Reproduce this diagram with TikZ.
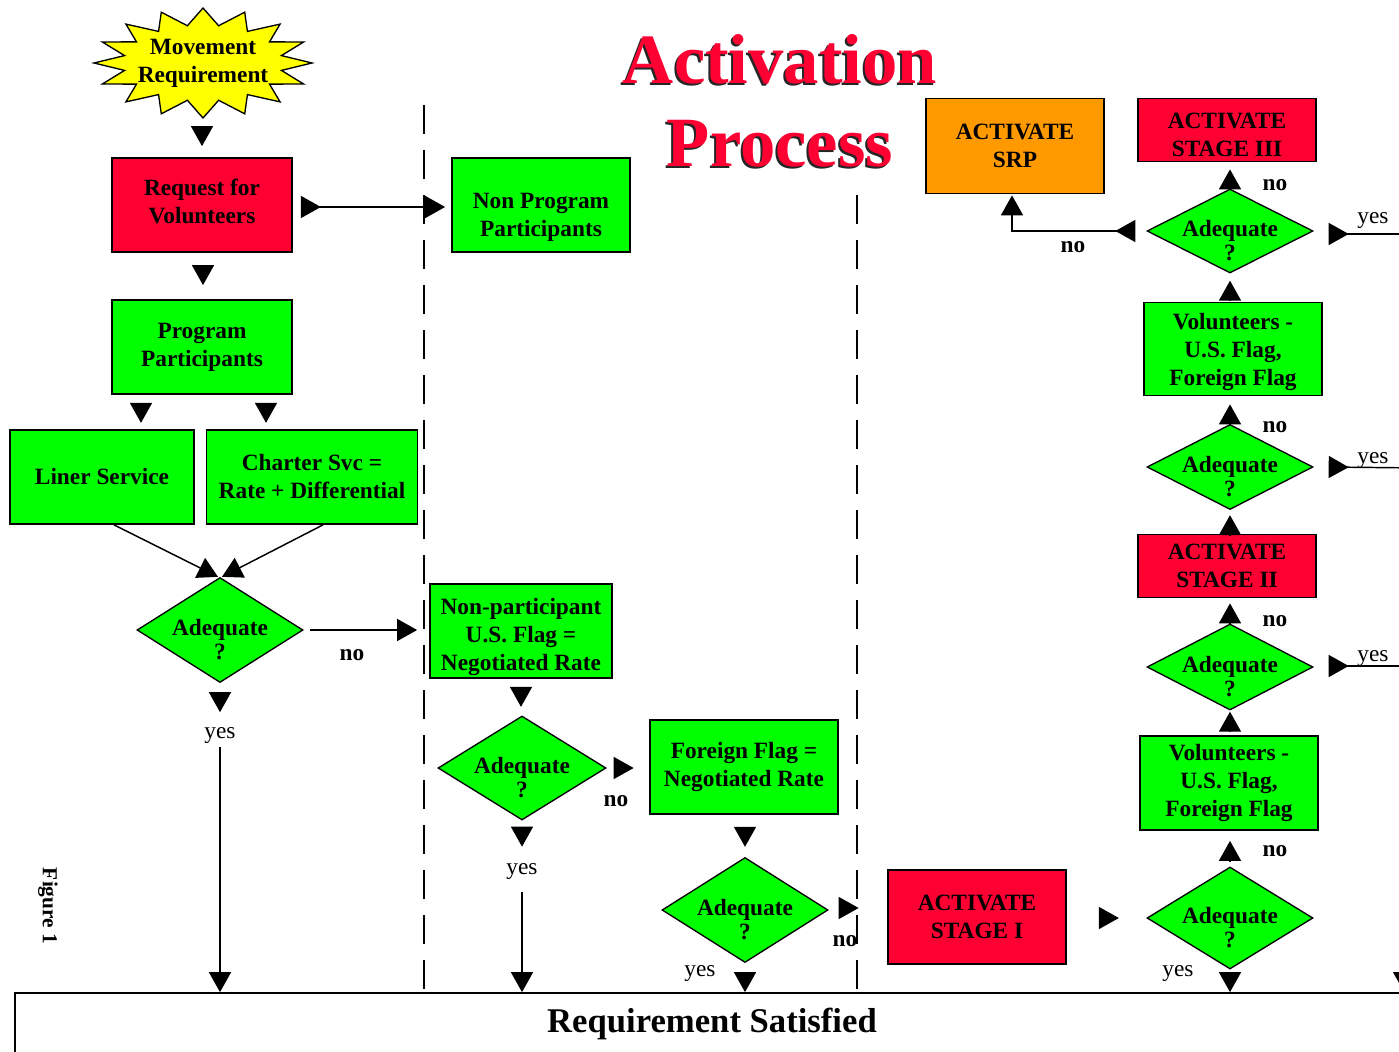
\documentclass[tikz,border=0pt]{standalone}
\usepackage{fontspec}
\setmainfont{Liberation Serif}
\usetikzlibrary{shapes.geometric,arrows.meta,calc}
\definecolor{bred}{HTML}{FF0033}
\definecolor{bgreen}{HTML}{00FF00}
\definecolor{borange}{HTML}{FF9900}
\definecolor{byellow}{HTML}{FFFF00}
\tikzset{
 bfont/.style={font=\fontsize{17.5}{21}\selectfont\bfseries},
 box/.style={rectangle, draw=black, line width=1.3pt, inner sep=0pt, align=center, bfont},
 gbox/.style={box, fill=bgreen},
 rbox/.style={box, fill=bred},
 obox/.style={box, fill=borange},
 sz/.style 2 args={minimum width={#1*0.75pt}, minimum height={#2*0.75pt}},
 dlab/.style={align=center, inner sep=0pt, yshift=-7pt, font=\fontsize{17.5}{18}\selectfont\bfseries},
 dia/.style 2 args={diamond, draw=black, line width=1pt, fill=bgreen, inner sep=0pt, minimum width={#1*0.75pt}, minimum height={#2*0.75pt}, label={[dlab]center:{Adequate\\?}}},
 conn/.style={line width=1.1pt, draw=black},
 tip/.style={conn, -{Triangle[length=15pt,width=16.5pt]}},
 stip/.style={conn, {Triangle[reversed,length=15pt,width=16.5pt]}-},
 sttip/.style={conn, {Triangle[reversed,length=15pt,width=16.5pt]}-{Triangle[length=15pt,width=16.5pt]}},
 nolab/.style={font=\fontsize{17.5}{20}\selectfont\bfseries, inner sep=0pt},
 yeslab/.style={font=\fontsize{17.5}{20}\selectfont, inner sep=0pt},
 sepline/.style={line width=1.1pt, dash pattern=on 21.75pt off 12pt},
 titlefont/.style={font=\fontsize{53}{60}\selectfont\bfseries, inner sep=0pt},
}
\newcommand{\dnstrut}[1]{\rule{0pt}{#1}}
\newcommand{\upstrut}[1]{\rule[-#1]{0pt}{#1}}
\begin{document}
\begin{tikzpicture}[x=0.75pt,y=-0.75pt]
\useasboundingbox (0,0) rectangle (1399,1052);

% separators
\draw[sepline] (424,105) -- (424,993);
\draw[sepline] (857,195) -- (857,993);

% starburst
\draw[fill=byellow, line width=1pt] plot[variable=\t, samples at={0,1,...,31}]
  ({203+ifthenelse(mod(\t,2)==0,109,80)*cos(\t*11.25)}, {63+ifthenelse(mod(\t,2)==0,55,38)*sin(\t*11.25)}) -- cycle;
\node[bfont, align=center, inner sep=0pt] (mr) at (203,63) {Movement\\Requirement};

% title
\node[titlefont, text=black!85] (t1s) at (778,61) {Activation};
\node[titlefont, text=bred] (t1) at (780,59) {Activation};
\node[titlefont, text=black!85] (t2s) at (778,146) {Process};
\node[titlefont, text=bred] (t2) at (780,144) {Process};

% figure label
\node[rotate=-90, font=\fontsize{16}{18}\selectfont\bfseries, inner sep=0pt] (fig) at (48,906) {Figure 1};

% boxes
\node[rbox, sz={180}{94}] (req) at (202,205) {Request for\\Volunteers\upstrut{6pt}};
\node[gbox, sz={178}{94}] (npp) at (541,205) {\dnstrut{30pt}Non Program\\Participants};
\node[gbox, sz={180}{94}] (pp) at (202,347) {Program\\Participants};
\node[gbox, sz={184}{94}] (liner) at (102,477) {Liner Service};
\node[gbox, sz={211}{94}] (charter) at (312,477) {Charter Svc =\\Rate + Differential};
\node[gbox, sz={182}{94}] (nonpart) at (521,631) {\dnstrut{21pt}Non-participant\\U.S. Flag =\\Negotiated Rate};
\node[gbox, sz={188}{94}] (foreign) at (744,767) {Foreign Flag =\\Negotiated Rate};
\node[rbox, sz={178}{94}] (st1) at (977,917) {ACTIVATE\\STAGE I};
\node[gbox, sz={178}{94}] (vol2) at (1229,783) {Volunteers -\\U.S. Flag,\\Foreign Flag};
\node[rbox, sz={178}{63}] (st2) at (1227,566) {ACTIVATE\\STAGE II};
\node[gbox, sz={178}{93}] (vol1) at (1233,349) {\dnstrut{17pt}Volunteers -\\U.S. Flag,\\Foreign Flag};
\node[rbox, sz={178}{63}] (st3) at (1227,130) {\dnstrut{19pt}ACTIVATE\\STAGE III};
\node[obox, sz={178}{95}] (srp) at (1015,146) {ACTIVATE\\SRP};

% diamonds
\node[dia={166}{105}] (d1) at (220,630) {};
\node[dia={168}{104}] (d2) at (522,768) {};
\node[dia={166}{105}] (d3) at (745,910) {};
\node[dia={166}{102}] (d4) at (1230,918) {};
\node[dia={166}{86}] (d5) at (1230,667) {};
\node[dia={166}{85}] (d6) at (1230,467) {};
\node[dia={166}{84}] (d7) at (1230,231) {};

% requirement satisfied
\node[rectangle, draw=black, line width=1.3pt, inner sep=0pt, minimum width={1394*0.75pt}, minimum height={62*0.75pt}, font=\fontsize{26}{30}\selectfont\bfseries] (rs) at (712,1024) {Requirement Satisfied};

% connectors
\draw[tip] ($(req.north)+(0,-31)$) -- ($(req.north)+(0,-11)$);
\draw[sttip] ($(req.east)+(8,2)$) -- ($(npp.west)+(-6,2)$);
\draw[tip] ($(pp.north)+(1,-34)$) -- ($(pp.north)+(1,-14)$);
\draw[tip] ($(pp.south)+(-61,8)$) -- ($(pp.south)+(-61,28)$);
\draw[tip] ($(pp.south)+(64,8)$) -- ($(pp.south)+(64,28)$);
\draw[tip] ($(liner.south)+(12,0)$) -- ($(d1.north)+(-2,0)$);
\draw[tip] ($(charter.south)+(11,0)$) -- ($(d1.north)+(2,0)$);
\draw[tip] ($(d1.east)+(6,0)$) -- ($(nonpart.west)+(-12,-1)$);
\node[nolab] (n1) at (352,655) {no};
\draw[tip] ($(d1.south)+(0,9)$) -- ($(d1.south)+(0,29)$);
\node[yeslab] (y1) at (220,736) {yes};
\draw[tip] ($(y1.south)+(0,3)$) -- (y1.south |- rs.north);

\draw[tip] ($(nonpart.south)+(0,8)$) -- ($(nonpart.south)+(0,28)$);
\draw[tip] ($(d2.east)+(7,0)$) -- ($(d2.east)+(27,0)$);
\node[nolab] (n2) at (616,801) {no};
\draw[tip] ($(d2.south)+(0,6)$) -- ($(d2.south)+(0,26)$);
\node[yeslab] (y2) at (522,872) {yes};
\draw[tip] ($(y2.south)+(0,12)$) -- (y2.south |- rs.north);

\draw[tip] ($(foreign.south)+(1,12)$) -- ($(foreign.south)+(1,32)$);
\draw[tip] ($(d3.east)+(10,-2)$) -- ($(d3.east)+(30,-2)$);
\node[nolab] (n3) at (845,941) {no};
\draw[tip] ($(d3.south |- rs.north)+(0,-20)$) -- (d3.south |- rs.north);
\node[yeslab] (y3) at (700,974) {yes};

\draw[tip] ($(st1.east)+(32,1)$) -- ($(st1.east)+(52,1)$);
\draw[tip] ($(d4.south |- rs.north)+(0,-20)$) -- (d4.south |- rs.north);
\node[yeslab] (y4) at (1178,974) {yes};
\draw[tip] ($(vol2.south)+(1,30)$) -- ($(vol2.south)+(1,10)$);
\node[nolab] (n4) at (1275,851) {no};
\draw[tip] ($(d5.south)+(0,21)$) -- ($(d5.south)+(0,1)$);
\draw[tip] ($(st2.south)+(3,25)$) -- ($(st2.south)+(3,5)$);
\node[nolab] (n5) at (1275,621) {no};
\coordinate (e5) at (1420,666);
\draw[stip] ($(d5.east)+(15,-1)$) -- (e5);
\node[yeslab] (y5) at (1373,659) {yes};
\draw[tip] ($(d6.south)+(0,25)$) -- ($(d6.south)+(0,5)$);
\draw[tip] ($(vol1.south)+(-3,28)$) -- ($(vol1.south)+(-3,8)$);
\node[nolab] (n6) at (1275,427) {no};
\coordinate (e6) at (1420,468);
\draw[stip] ($(d6.east)+(15,0)$) -- (e6);
\node[yeslab] (y6) at (1373,461) {yes};
\draw[tip] ($(d7.south)+(0,27)$) -- ($(d7.south)+(0,7)$);
\draw[tip] ($(st3.south)+(3,27)$) -- ($(st3.south)+(3,7)$);
\node[nolab] (n7) at (1275,185) {no};
\coordinate (e7) at (1420,234);
\draw[stip] ($(d7.east)+(15,3)$) -- (e7);
\node[yeslab] (y7) at (1373,221) {yes};
\draw[sttip] ($(d7.west)+(-11,0)$) -| ($(srp.south)+(-3,1)$);
\node[nolab] (n8) at (1073,247) {no};
\draw[tip] ($(rs.north west)+(1390,-20)$) -- ($(rs.north west)+(1390,0)$);
\end{tikzpicture}
\end{document}
